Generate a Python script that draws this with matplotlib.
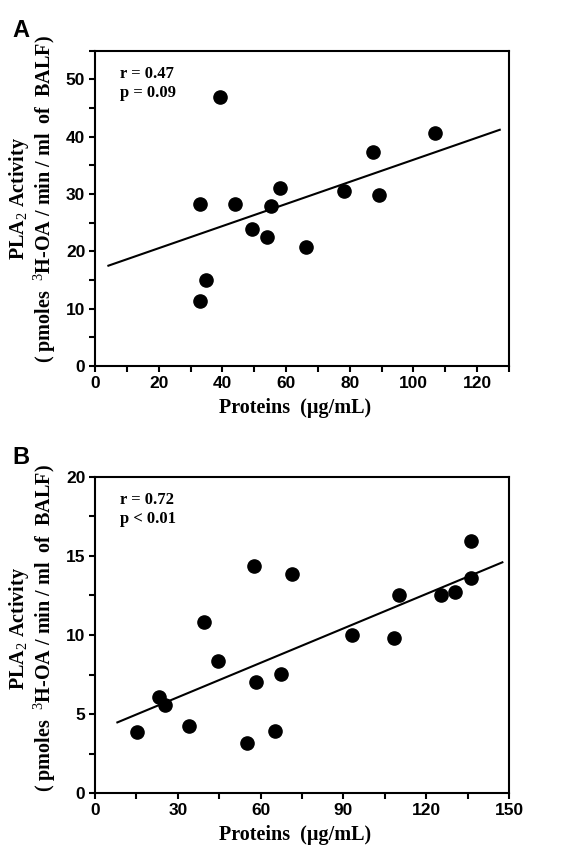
import matplotlib
matplotlib.use("Agg")
import matplotlib.pyplot as plt
from matplotlib.ticker import MultipleLocator

plt.rcParams['mathtext.fontset'] = 'custom'
plt.rcParams['mathtext.rm'] = 'Liberation Serif'
plt.rcParams['mathtext.bf'] = 'Liberation Serif:bold'
plt.rcParams['mathtext.it'] = 'Liberation Serif'

# Panel A data
a_protein = [33.0, 39.1, 44.0, 49.3, 54.0, 55.2, 58.2, 66.1, 78.2, 87.3, 89.1, 106.9, 34.9, 33.0]
a_pla2 = [28.3, 46.9, 28.2, 23.9, 22.5, 27.9, 31.1, 20.8, 30.5, 37.4, 29.8, 40.7, 15.0, 11.3]
a_line_x = [4.2, 127.1]
a_line_y = [17.5, 41.2]
a_stats = "r = 0.47\np = 0.09"

# Panel B data
b_protein = [15.1, 23.1, 25.2, 34.1, 39.4, 44.4, 55.0, 57.5, 58.3, 65.3, 67.4, 71.5,
             93.1, 108.3, 110.3, 125.2, 130.3, 136.4, 136.4]
b_pla2 = [3.87, 6.06, 5.56, 4.25, 10.82, 8.36, 3.16, 14.36, 7.01, 3.92, 7.54, 13.83,
          10.02, 9.81, 12.55, 12.55, 12.74, 15.96, 13.62]
b_line_x = [8.1, 147.6]
b_line_y = [4.48, 14.59]
b_stats = "r = 0.72\np < 0.01"

xlabel = "Proteins  (\u00b5g/mL)"
ylabel_line1 = "PLA$_{2}$ Activity"
ylabel_line2 = "( pmoles  $^{3}$H-OA / min / ml  of  BALF)"

fig = plt.figure(figsize=(5.71, 8.57), dpi=100)

panels = [
    dict(rect=[0.1664, 0.5729, 0.725, 0.368], x=a_protein, y=a_pla2, lx=a_line_x, ly=a_line_y,
         stats=a_stats, xlim=(0, 130), ylim=(0, 55), xmaj=20, xmin=10, ymaj=10, ymin=5,
         letter="A", letter_y=0.978, ylab_y=0.53),
    dict(rect=[0.1664, 0.0743, 0.725, 0.3695], x=b_protein, y=b_pla2, lx=b_line_x, ly=b_line_y,
         stats=b_stats, xlim=(0, 150), ylim=(0, 20), xmaj=30, xmin=15, ymaj=5, ymin=2.5,
         letter="B", letter_y=0.480, ylab_y=0.522),
]

lab_font = dict(family='Liberation Serif', fontweight='bold', fontsize=14.5)

for p in panels:
    ax = fig.add_axes(p['rect'])
    ax.plot(p['lx'], p['ly'], color='black', lw=1.5, zorder=2)
    ax.plot(p['x'], p['y'], 'o', color='black', ms=9.5, zorder=3)
    ax.set_xlim(*p['xlim'])
    ax.set_ylim(*p['ylim'])
    ax.xaxis.set_major_locator(MultipleLocator(p['xmaj']))
    ax.xaxis.set_minor_locator(MultipleLocator(p['xmin']))
    ax.yaxis.set_major_locator(MultipleLocator(p['ymaj']))
    ax.yaxis.set_minor_locator(MultipleLocator(p['ymin']))
    ax.tick_params(which='both', direction='out', length=4, width=1.5, pad=3)
    for lab in ax.get_xticklabels() + ax.get_yticklabels():
        lab.set_fontfamily('Liberation Sans')
        lab.set_fontweight('bold')
        lab.set_fontsize(12.5)
    for s in ax.spines.values():
        s.set_linewidth(1.5)
    ax.set_xlabel(xlabel, **lab_font)
    ax.xaxis.set_label_coords(0.483, -0.1)
    ax.text(-0.184, p['ylab_y'], ylabel_line1, transform=ax.transAxes, rotation=90,
            ha='center', va='center', **lab_font)
    ax.text(-0.12, p['ylab_y'], ylabel_line2, transform=ax.transAxes, rotation=90,
            ha='center', va='center', **lab_font)
    ax.text(0.06, 0.95, p['stats'], transform=ax.transAxes, ha='left', va='top',
            family='Liberation Serif', fontweight='bold', fontsize=12, linespacing=1.2)
    fig.text(0.022, p['letter_y'], p['letter'], family='Liberation Sans', fontweight='bold',
             fontsize=17, ha='left', va='top')

fig.savefig("out.png", dpi=100)
